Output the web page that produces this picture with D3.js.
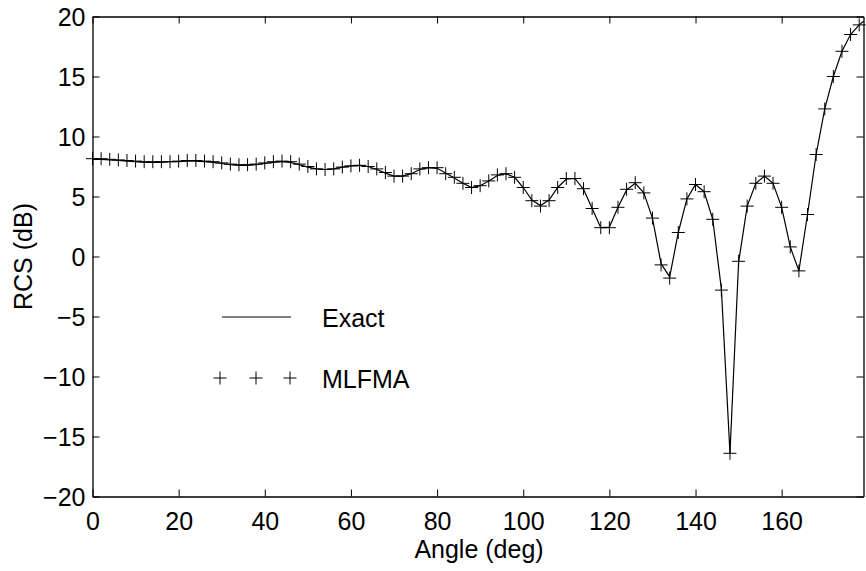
<!DOCTYPE html>
<html>
<head>
<meta charset="utf-8">
<script src="https://cdn.jsdelivr.net/npm/d3@7"></script>
<style>
  html, body { margin: 0; padding: 0; background: #fff; }
  svg { display: block; }
  text { font-family: "Liberation Sans", Arial, Helvetica, sans-serif; fill: #000; }
</style>
</head>
<body>
<svg id="chart" width="866" height="571"></svg>
<script>
// ---- data ----
const angles = [0,2,4,6,8,10,12,14,16,18,20,22,24,26,28,30,32,34,36,38,40,42,44,46,48,50,52,54,56,58,
  60,62,64,66,68,70,72,74,76,78,80,82,84,86,88,90,92,94,96,98,100,102,104,106,108,110,112,114,116,118,
  120,122,124,126,128,130,132,134,136,138,140,142,144,146,148,150,152,154,156,158,160,162,164,166,168,170,172,174,176,178];

const mlfma = [8.15,8.15,8.1,8.05,8.0,7.95,7.9,7.9,7.9,7.9,7.95,8.0,8.0,7.95,7.9,7.8,7.7,7.65,7.65,7.7,
  7.8,7.9,7.95,7.9,7.7,7.5,7.3,7.25,7.3,7.45,7.55,7.6,7.5,7.3,7.0,6.7,6.7,6.9,7.3,7.4,
  7.4,6.9,6.6,6.1,5.75,5.9,6.3,6.8,6.9,6.6,5.75,4.65,4.2,4.65,5.75,6.5,6.5,5.65,4.0,2.4,
  2.4,4.1,5.6,6.15,5.3,3.2,-0.7,-1.8,2.0,4.8,6.0,5.4,3.1,-2.8,-16.4,-0.4,4.2,6.1,6.7,6.1,
  4.1,0.8,-1.2,3.5,8.5,12.3,15.0,17.1,18.5,19.3];

const exactAngles = [0,2,4,6,8,10,12,14,16,18,20,22,24,26,28,30,32,34,36,38,40,42,44,46,48,50,52,54,56,58,
  60,62,64,66,68,70,72,74,76,78,80,82,84,86,88,90,92,94,96,98,100,102,104,106,108,110,112,114,116,118,
  120,122,124,126,128,130,132,134,136,138,140,142,144,146,148,150,152,154,156,158,160,162,164,166,168,170,172,174,176,178,179];

const exact = [8.1,8.1,8.05,8.0,7.95,7.9,7.85,7.85,7.85,7.9,7.9,7.95,7.95,7.9,7.85,7.75,7.65,7.6,7.6,7.65,
  7.75,7.85,7.9,7.85,7.65,7.45,7.3,7.25,7.3,7.45,7.55,7.6,7.5,7.25,6.95,6.7,6.7,6.9,7.25,7.4,
  7.35,6.95,6.55,6.1,5.75,5.9,6.3,6.75,6.9,6.6,5.75,4.7,4.25,4.7,5.75,6.45,6.5,5.6,4.0,2.4,
  2.45,4.1,5.55,6.1,5.3,3.2,-0.6,-1.7,2.0,4.8,6.0,5.4,3.1,-2.7,-16.4,-0.5,4.2,6.1,6.7,6.1,
  4.1,0.8,-1.2,3.5,8.5,12.3,15.0,17.1,18.5,19.3,19.6];

const xTicks = [0,20,40,60,80,100,120,140,160];
const yTicks = [-20,-15,-10,-5,0,5,10,15,20];
const xLabel = "Angle (deg)";
const yLabel = "RCS (dB)";
const legendLabels = ["Exact", "MLFMA"];

// ---- layout ----
const svg = d3.select("#chart");
const margin = {left: 92.5, top: 16.5, right: 2.5, bottom: 74.5};
const W = 866, H = 571;
const iw = W - margin.left - margin.right;
const ih = H - margin.top - margin.bottom;
const FS = "25px";

const x = d3.scaleLinear().domain([0, 179]).range([0, iw]);
const y = d3.scaleLinear().domain([-20, 20]).range([ih, 0]);

const g = svg.append("g").attr("transform", `translate(${margin.left},${margin.top})`);

const fmt = d => d < 0 ? "\u2212" + Math.abs(d) : String(d);
const tickLen = 7;

// bottom axis
const xb = g.append("g").attr("transform", `translate(0,${ih})`)
  .call(d3.axisBottom(x).tickValues(xTicks).tickSizeInner(-tickLen).tickSizeOuter(0).tickPadding(16).tickFormat(fmt));
// top axis
const xt = g.append("g")
  .call(d3.axisTop(x).tickValues(xTicks).tickSizeInner(-tickLen).tickSizeOuter(0).tickFormat(""));
// left axis
const yl = g.append("g")
  .call(d3.axisLeft(y).tickValues(yTicks).tickSizeInner(-tickLen).tickSizeOuter(0).tickPadding(7).tickFormat(fmt));
// right axis
const yr = g.append("g").attr("transform", `translate(${iw},0)`)
  .call(d3.axisRight(y).tickValues(yTicks).tickSizeInner(-tickLen).tickSizeOuter(0).tickFormat(""));

[xb, xt, yl, yr].forEach(a => {
  a.selectAll("path").attr("stroke", "#000").attr("stroke-width", 1.3);
  a.selectAll("line").attr("stroke", "#000").attr("stroke-width", 1);
  a.selectAll("text").style("font-size", FS).attr("fill", "#000")
    .style("font-family", "'Liberation Sans', Arial, sans-serif");
});
yl.selectAll("text").attr("dy", "0.36em");

// exact line
const line = d3.line().x((d, i) => x(exactAngles[i])).y(d => y(d));
g.append("path").datum(exact)
  .attr("fill", "none").attr("stroke", "#000").attr("stroke-width", 1.2)
  .attr("d", line);

// MLFMA markers
const ms = 6.5;
const plus = (cx, cy) => `M${cx - ms},${cy}H${cx + ms}M${cx},${cy - ms}V${cy + ms}`;
g.append("g").selectAll("path").data(mlfma).join("path")
  .attr("d", (d, i) => plus(x(angles[i]), y(d)))
  .attr("stroke", "#000").attr("stroke-width", 1).attr("fill", "none");

// legend
const lg = svg.append("g");
lg.append("line").attr("x1", 222).attr("x2", 291).attr("y1", 317).attr("y2", 317)
  .attr("stroke", "#000").attr("stroke-width", 1.2);
lg.append("text").attr("x", 322).attr("y", 318).attr("dy", "0.36em")
  .style("font-size", FS).text(legendLabels[0]);
[220, 256, 290].forEach(cx => {
  lg.append("path").attr("d", plus(cx, 378)).attr("stroke", "#000").attr("stroke-width", 1);
});
lg.append("text").attr("x", 322).attr("y", 379).attr("dy", "0.36em")
  .style("font-size", FS).text(legendLabels[1]);

// axis labels
svg.append("text").attr("x", margin.left + iw / 2 + 1).attr("y", 558)
  .attr("text-anchor", "middle").style("font-size", FS).text(xLabel);
svg.append("text").attr("transform", `translate(32,${margin.top + ih / 2}) rotate(-90)`)
  .attr("text-anchor", "middle").style("font-size", FS).text(yLabel);
</script>
</body>
</html>
